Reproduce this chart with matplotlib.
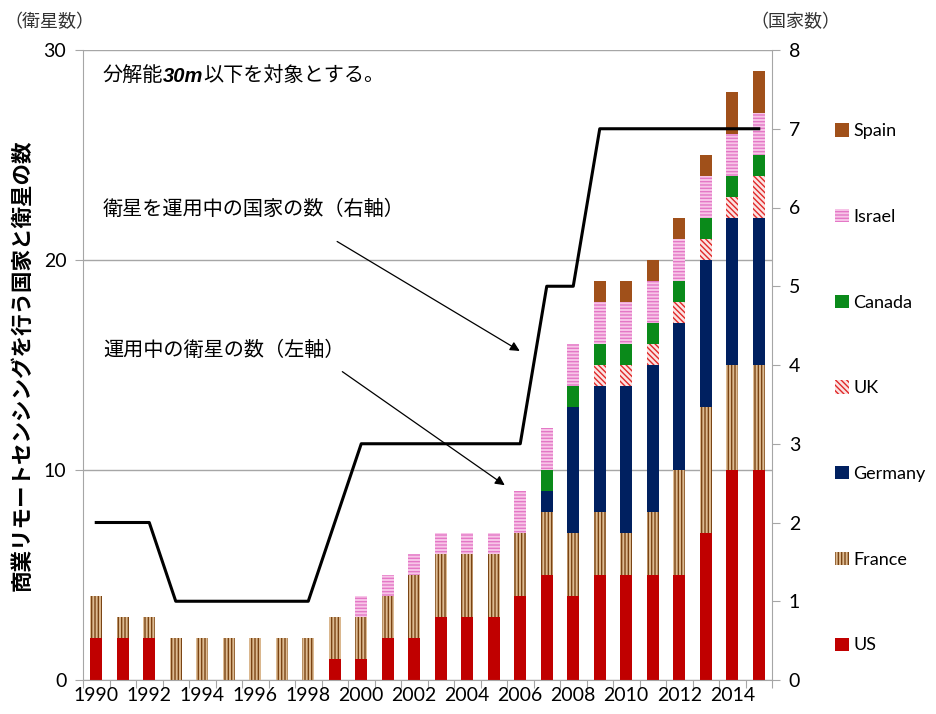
import matplotlib
matplotlib.use("Agg")
import matplotlib.pyplot as plt
import matplotlib.patches as mpatches
import numpy as np

plt.rcParams['font.family'] = ['Noto Sans CJK JP', 'DejaVu Sans']
plt.rcParams['hatch.linewidth'] = 1.0

years = list(range(1990, 2016))
# 国別の運用中衛星数（左軸）
us      = [2, 2, 2, 0, 0, 0, 0, 0, 0, 1, 1, 2, 2, 3, 3, 3, 4, 5, 4, 5, 5, 5, 5, 7, 10, 10]
france  = [2, 1, 1, 2, 2, 2, 2, 2, 2, 2, 2, 2, 3, 3, 3, 3, 3, 3, 3, 3, 2, 3, 5, 6, 5, 5]
germany = [0] * 17 + [1, 6, 6, 7, 7, 7, 7, 7, 7]
uk      = [0] * 19 + [1, 1, 1, 1, 1, 1, 2]
canada  = [0] * 17 + [1] * 9
israel  = [0] * 10 + [1] * 6 + [2] * 10
spain   = [0] * 19 + [1, 1, 1, 1, 1, 2, 2]
# 衛星を運用中の国家の数（右軸）
countries = [2, 2, 2, 1, 1, 1, 1, 1, 1, 2, 3, 3, 3, 3, 3, 3, 3, 5, 5, 7, 7, 7, 7, 7, 7, 7]

series = [
    ('US',      us,      dict(facecolor='#C00000', edgecolor='#C00000')),
    ('France',  france,  dict(facecolor='#DDBB92', edgecolor='#7A4414', hatch='|||||')),
    ('Germany', germany, dict(facecolor='#002060', edgecolor='#002060')),
    ('UK',      uk,      dict(facecolor='#FBE3E3', edgecolor='#E02828', hatch='\\\\\\\\\\\\')),
    ('Canada',  canada,  dict(facecolor='#0A8A1A', edgecolor='#0A8A1A')),
    ('Israel',  israel,  dict(facecolor='#F7C6E8', edgecolor='#E478C6', hatch='-----')),
    ('Spain',   spain,   dict(facecolor='#A0501A', edgecolor='#A0501A')),
]

fig = plt.figure(figsize=(9.36, 7.14), dpi=100)
ax = fig.add_axes([83 / 936, 1 - 680 / 714, (772 - 83) / 936, (680 - 50) / 714])

x = np.arange(len(years))
bottom = np.zeros(len(years))
handles = []
for name, vals, style in series:
    vals = np.array(vals, dtype=float)
    ax.bar(x, vals, width=0.44, bottom=bottom, linewidth=0, zorder=2, **style)
    bottom += vals
    handles.append(mpatches.Patch(linewidth=0, label=name, **style))

grid_c = '#A6A6A6'
tick_fs = 14
ax.set_xlim(-0.5, len(years) - 0.5)
ax.set_ylim(0, 30)
ax.set_yticks([0, 10, 20, 30])
ax.yaxis.grid(True, color=grid_c, linewidth=1)
ax.set_axisbelow(True)
for s in ['top', 'right']:
    ax.spines[s].set_visible(False)
for s in ['left', 'bottom']:
    ax.spines[s].set_color(grid_c)

# 目盛り線は区間の境界、ラベルは偶数年
ax.set_xticks(np.arange(-0.5, len(years), 1))
ax.set_xticklabels([])
ax.set_xticks(x[::2], minor=True)
ax.set_xticklabels([str(y) for y in years[::2]], minor=True, fontfamily='Lato', fontsize=tick_fs)
ax.tick_params(axis='x', which='major', length=6, color=grid_c)
ax.tick_params(axis='x', which='minor', length=0, pad=5)
ax.tick_params(axis='y', length=6, color=grid_c, pad=6)
for lab in ax.get_yticklabels():
    lab.set_fontfamily('Lato')
    lab.set_fontsize(tick_fs)

ax2 = ax.twinx()
ax2.plot(x, countries, color='black', linewidth=2.2, zorder=3)
ax2.set_ylim(0, 8)
ax2.set_yticks(range(9))
for s in ['top', 'left', 'bottom']:
    ax2.spines[s].set_visible(False)
ax2.spines['right'].set_color(grid_c)
ax2.tick_params(axis='y', length=6, color=grid_c, pad=6)
for lab in ax2.get_yticklabels():
    lab.set_fontfamily('Lato')
    lab.set_fontsize(tick_fs)

# 注記
fs = 14.5
t1 = ax.text(0.25, 28.8, '分解能', fontsize=fs, va='center', ha='left', zorder=5)
t2 = ax.annotate('30m', xy=(1, 0), xycoords=t1, va='bottom', ha='left',
                 fontsize=fs, fontweight='bold', fontstyle='italic',
                 fontfamily='Liberation Sans')
ax.annotate('以下を対象とする。', xy=(1, 0), xycoords=t2, va='bottom', ha='left', fontsize=fs)

ax2.annotate('衛星を運用中の国家の数（右軸）', xy=(0.25, 22.4), xycoords=ax.transData,
             fontsize=fs, va='center', ha='left')
ax2.annotate('', xy=(16.07, 15.6), xycoords=ax.transData,
             xytext=(9.0, 20.95), textcoords=ax.transData,
             arrowprops=dict(arrowstyle='-|>', color='black', lw=0.9, mutation_scale=14))
ax2.annotate('運用中の衛星の数（左軸）', xy=(0.25, 15.7), xycoords=ax.transData,
             fontsize=fs, va='center', ha='left')
ax2.annotate('', xy=(15.5, 9.2), xycoords=ax.transData,
             xytext=(9.2, 14.76), textcoords=ax.transData,
             arrowprops=dict(arrowstyle='-|>', color='black', lw=0.9, mutation_scale=14))

fig.text(4 / 936, 1 - 22 / 714, '（衛星数）', fontsize=13, va='center', ha='left', color='#333333')
fig.text(750 / 936, 1 - 22 / 714, '（国家数）', fontsize=13, va='center', ha='left', color='#333333')
fig.text(22 / 936, 1 - 365 / 714, '商業リモートセンシングを行う国家と衛星の数', rotation=90,
         fontsize=15.5, fontweight='bold', va='center', ha='center')

fig.legend(handles=handles[::-1], loc='upper left', bbox_to_anchor=(819 / 936, 1 - 107 / 714),
           frameon=False, prop={'family': 'Lato', 'size': 13},
           handlelength=0.75, handleheight=0.75, handletextpad=0.25, labelspacing=3.86)

fig.savefig('out.png', dpi=100)
